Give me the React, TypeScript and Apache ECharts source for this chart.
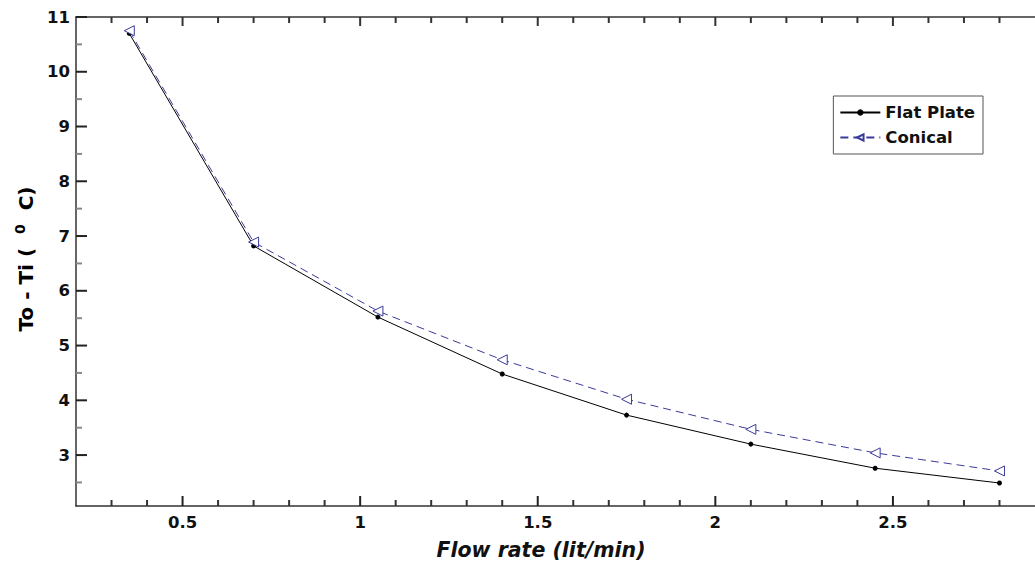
import React, { useEffect, useRef } from "react";
import * as echarts from "echarts";

const flowRate = [0.35, 0.7, 1.05, 1.4, 1.75, 2.1, 2.45, 2.8];
const flatPlate = [10.7, 6.82, 5.52, 4.48, 3.73, 3.2, 2.76, 2.49];
const conical = [10.75, 6.89, 5.63, 4.74, 4.02, 3.47, 3.04, 2.71];
const xMajorTicks = [0.5, 1, 1.5, 2, 2.5];
const xMinorTicks = [0.3, 0.4, 0.6, 0.7, 0.8, 0.9, 1.1, 1.2, 1.3, 1.4, 1.6, 1.7, 1.8, 1.9, 2.1, 2.2, 2.3, 2.4, 2.6, 2.7, 2.8];
const yMajorTicks = [3, 4, 5, 6, 7, 8, 9, 10, 11];
const yMinorTicks = [2.5, 3.5, 4.5, 5.5, 6.5, 7.5, 8.5, 9.5, 10.5];
const X_MIN = 0.2;
const X_MAX = 2.9;
const Y_MIN = 2.07;
const Y_MAX = 11;
const ANCHOR_X = 1.5;
const ANCHOR_Y = 5;

const FONT = "'DejaVu Sans', Arial, sans-serif";
const BLUE = "#3a3a9a";

type Side = "bottom" | "top" | "left";

function tickSeries(name: string, values: number[], side: Side, len: number, thick: number, color: string) {
  const data = side === "left" ? values.map((v) => [ANCHOR_X, v]) : values.map((v) => [v, ANCHOR_Y]);
  return {
    name,
    type: "custom",
    coordinateSystem: "cartesian2d",
    clip: false,
    data,
    renderItem: (_p: any, api: any) => {
      if (side === "left") {
        const c = api.coord([X_MIN, api.value(1)]);
        return { type: "rect", shape: { x: c[0], y: c[1] - thick / 2, width: len, height: thick }, style: { fill: color } };
      }
      if (side === "bottom") {
        const c = api.coord([api.value(0), Y_MIN]);
        return { type: "rect", shape: { x: c[0] - thick / 2, y: c[1] - len, width: thick, height: len }, style: { fill: color } };
      }
      const c = api.coord([api.value(0), Y_MAX]);
      return { type: "rect", shape: { x: c[0] - thick / 2, y: c[1], width: thick, height: len }, style: { fill: color } };
    },
  };
}

export default function App() {
  const ref = useRef<HTMLDivElement>(null);
  useEffect(() => {
    if (!ref.current) return;
    const chart = echarts.init(ref.current, null, { renderer: "svg" });
    const axisLine = { show: true, lineStyle: { color: "#333", width: 1.5 } };
    const labelStyle = { fontFamily: FONT, fontWeight: "bold" as const, fontSize: 16.5, color: "#111" };

    chart.setOption({
      animation: false,
      backgroundColor: "#fff",
      grid: { left: 76, top: 17, right: 0, bottom: 67 },
      legend: {
        orient: "vertical",
        right: 52,
        top: 96,
        borderColor: "#555",
        borderWidth: 1,
        padding: [8, 8, 8, 6],
        itemGap: 8,
        itemWidth: 40,
        itemHeight: 8,
        textStyle: { fontFamily: FONT, fontWeight: "bold", fontSize: 16.5, color: "#111" },
        data: ["Flat Plate", "Conical"],
      },
      xAxis: [
        {
          type: "value",
          min: X_MIN,
          max: X_MAX,
          position: "bottom",
          splitLine: { show: false },
          axisLine,
          axisTick: { show: false },
          axisLabel: { ...labelStyle, margin: 8, customValues: xMajorTicks },
        },
        {
          type: "value",
          min: X_MIN,
          max: X_MAX,
          position: "top",
          splitLine: { show: false },
          axisLine,
          axisTick: { show: false },
          axisLabel: { show: false },
        },
      ],
      yAxis: [
        {
          type: "value",
          min: Y_MIN,
          max: Y_MAX,
          position: "left",
          splitLine: { show: false },
          axisLine,
          axisTick: { show: false },
          axisLabel: { ...labelStyle, margin: 6, customValues: yMajorTicks },
        },
      ],
      graphic: [
        {
          type: "text",
          x: 26,
          y: 259,
          rotation: Math.PI / 2,
          style: {
            text: "{a|To - Ti (  }{s|0}{a|  C)}",
            align: "center",
            verticalAlign: "middle",
            rich: {
              a: { fontFamily: FONT, fontWeight: "bold", fontSize: 20, color: "#111", lineHeight: 26 },
              s: { fontFamily: FONT, fontWeight: "bold", fontSize: 14, color: "#111", verticalAlign: "top", lineHeight: 26 },
            },
          },
        },
        {
          type: "text",
          x: 541,
          y: 550,
          style: {
            text: "Flow rate (lit/min)",
            fontFamily: FONT,
            fontWeight: "bold",
            fontStyle: "italic",
            fontSize: 20.5,
            fill: "#111",
            align: "center",
            verticalAlign: "middle",
          },
        },
      ],
      series: [
        tickSeries("xMajorBottom", xMajorTicks, "bottom", 10, 2, "#222"),
        tickSeries("xMinorBottom", xMinorTicks, "bottom", 6, 2, "#333"),
        tickSeries("xMajorTop", xMajorTicks, "top", 9, 2, "#333"),
        tickSeries("xMinorTop", xMinorTicks, "top", 6, 2, "#333"),
        tickSeries("yMajor", yMajorTicks, "left", 11, 2, "#222"),
        tickSeries("yMinor", yMinorTicks, "left", 6, 2, "#888"),
        {
          name: "Flat Plate",
          type: "line",
          data: flowRate.map((x, i) => [x, flatPlate[i]]),
          symbol: "circle",
          symbolSize: 5,
          itemStyle: { color: "#000" },
          lineStyle: { color: "#000", width: 1 },
        },
        {
          name: "Conical",
          type: "line",
          data: flowRate.map((x, i) => [x, conical[i]]),
          symbol: "triangle",
          symbolRotate: 90,
          symbolSize: 10,
          itemStyle: { color: "#fff", borderColor: BLUE, borderWidth: 1 },
          lineStyle: { color: BLUE, width: 1, type: [8, 5] },
        },
      ],
    });

    return () => chart.dispose();
  }, []);
  return <div ref={ref} style={{ position: "absolute", left: 0, top: 0, width: 1035, height: 573 }} />;
}
